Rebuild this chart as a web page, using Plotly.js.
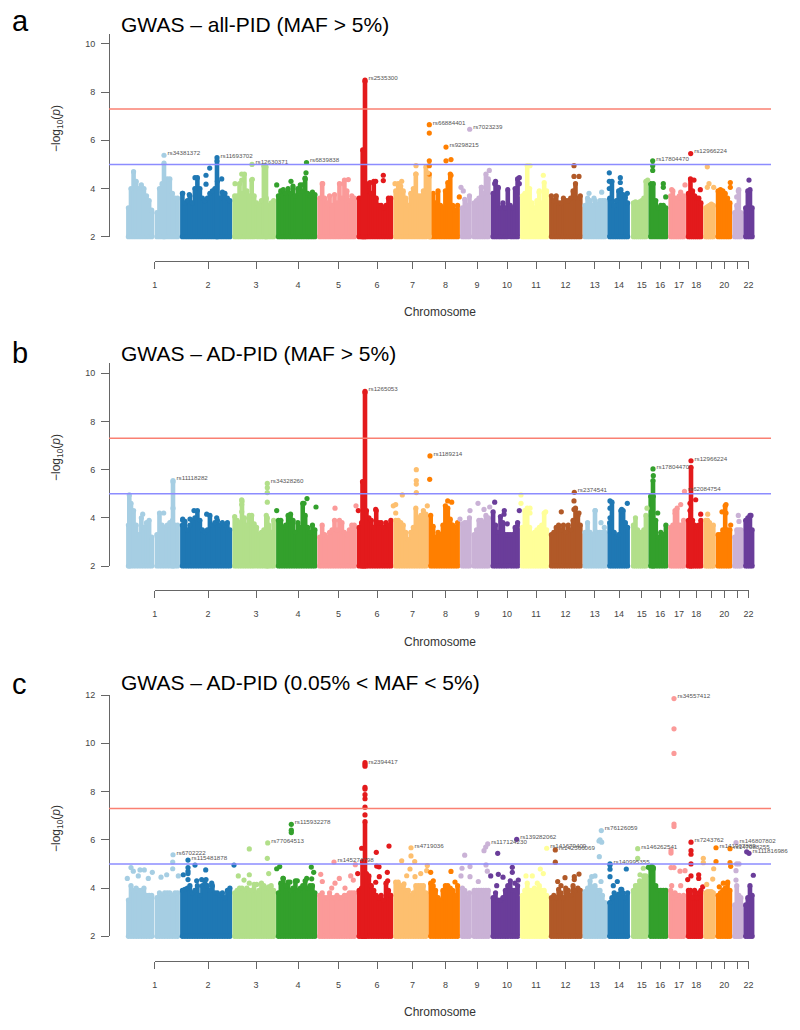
<!DOCTYPE html>
<html>
<head>
<meta charset="utf-8">
<script src="https://cdn.plot.ly/plotly-3.0.1.min.js"></script>
<style>html,body{margin:0;padding:0;background:#fff}#chart{width:800px;height:1030px}</style>
</head>
<body>
<div id="chart"></div>
<script>
// Genome position in horizontal picture units.
const chrStart = [126,180,232.3,276,317.3,356.7,393.3,428.3,460,490.7,520,549,582.7,607.3,631,648.3,668.3,686,703.3,715.7,732.3,743.3];
const chrEnd   = [180,232.3,276,317.3,356.7,393.3,428.3,460,490.7,520,549,582.7,607.3,630,648.3,668.3,686,703.3,715.7,732.3,743.3,754.5];
const chrColors = ['#A6CEE3','#1F78B4','#B2DF8A','#33A02C','#FB9A99','#E31A1C','#FDBF6F','#FF7F00','#CAB2D6','#6A3D9A','#FFFF99','#B15928','#A6CEE3','#1F78B4','#B2DF8A','#33A02C','#FB9A99','#E31A1C','#FDBF6F','#FF7F00','#CAB2D6','#6A3D9A'];
const tickPos = [154.8,208,256,298,338.5,377,412.6,445.6,477,507,536,565.5,594.8,619,641.8,660.3,679,696.3,724.3,748.6];
const tickText = ['1','2','3','4','5','6','7','8','9','10','11','12','13','14','15','16','17','18','20','22'];
const unlabelledTicks = [711,737.5];

// Upper edge of the dense band per chromosome (null = centromere gap)
const aBand = [
 [3.2,4.0,4.7,4.3,4.0,4.15,4.0,3.7,3.5,3.1,null,3.0,4.0,4.2,3.1,4.4,4.4,3.8,3.6,3.6],
 [3.8,3.4,3.5,3.7,3.4,4.0,4.45,4.0,3.6,3.5,3.6,3.8,3.9,4.0,4.3,3.6,3.85,3.8,3.6,3.5],
 [3.7,3.7,4.2,3.8,4.6,3.9,3.7,4.35,3.7,3.4,3.3,3.5,4.95,3.6,3.3,3.4,3.5],
 [3.7,3.9,3.95,3.8,4.0,3.8,4.1,3.7,4.0,4.15,3.9,4.4,3.8,3.7,3.85,3.75],
 [3.6,4.2,3.6,3.4,3.7,3.3,3.75,3.4,4.2,3.6,4.35,3.9,3.5,3.7,3.6],
 [3.6,3.6,3.5,3.9,4.2,3.8,4.3,3.6,3.3,3.3,3.2,3.3,3.6,3.6],
 [3.9,4.2,4.1,3.9,3.6,3.3,3.8,4.0,4.6,3.7,3.7,3.9,4.9],
 [3.7,3.8,3.4,3.9,3.3,3.2,3.9,4.25,4.6,3.3,3.1,3.3],
 [3.2,3.55,3.3,3.7,null,3.4,3.5,3.6,4.05,3.8,4.6,4.4],
 [3.8,4.3,4.0,3.2,3.4,3.2,3.95,3.3,3.2,4.0,4.4],
 [3.7,3.8,4.95,4.0,3.4,3.2,3.5,3.9,3.4,4.25,3.9],
 [3.7,3.5,3.7,3.4,3.4,3.6,3.5,3.5,3.6,3.9,4.2,3.6,3.7],
 [3.3,3.6,3.5,3.3,3.5,3.35,3.5,3.5,3.5],
 [3.6,4.3,3.3,3.5,3.9,3.95,3.75,3.65,3.4],
 [3.4,3.45,3.4,3.45,3.5,3.6,4.3],
 [4.2,4.2,3.5,3.2,3.3,3.3,3.2],
 [3.7,3.9,3.6,3.6,3.7,3.6,3.7],
 [3.8,4.4,3.9,3.7,3.6,3.6,3.4],
 [3.2,3.25,3.3,3.35,3.3],
 [3.9,3.95,3.9,3.8,3.6,3.4],
 [3.0,3.3,3.95,3.0],
 [3.2,3.9,3.95,3.2]
];
const bBand = [
 [3.7,4.6,4.3,3.7,3.3,4.0,3.6,3.8,3.9,3.2,null,3.3,4.2,3.7,3.6,3.7,3.8,3.9,3.7,3.7],
 [3.7,3.85,3.5,3.7,3.9,4.0,4.3,3.9,3.5,3.4,3.5,4.1,3.7,3.8,3.9,3.7,3.8,3.7,3.8,3.5],
 [4.05,3.9,3.8,4.7,4.0,3.7,4.1,4.1,3.75,3.6,3.3,3.4,3.5,4.1,3.7,3.4,3.9],
 [3.9,3.9,3.6,3.7,4.1,4.15,3.9,3.4,3.8,3.6,4.6,4.1,3.6,3.4,3.7,3.5],
 [3.2,3.7,3.3,3.2,3.4,3.5,3.9,3.5,3.9,3.8,3.4,3.3,3.5,3.7,3.7],
 [3.6,3.8,3.7,4.3,4.0,3.9,3.6,4.3,3.8,3.8,3.6,3.8,3.7,3.9],
 [3.9,3.9,3.8,3.7,3.4,3.1,3.4,3.6,4.4,4.0,4.1,4.3,4.15],
 [4.1,3.65,3.2,3.4,3.3,3.7,4.5,4.4,3.95,3.7,3.6,3.8],
 [3.75,3.8,3.8,4.0,null,3.3,3.5,3.9,3.9,3.8,4.1,4.0],
 [4.25,3.7,3.4,4.05,3.8,3.3,3.3,3.3,3.3,3.6,3.8],
 [3.6,4.3,4.4,3.6,3.3,3.4,3.5,3.6,3.7,4.2,3.5],
 [3.3,3.4,3.6,3.7,3.5,3.7,3.4,3.7,3.5,3.9,4.4,4.1,3.7],
 [3.4,3.8,3.4,3.3,4.3,3.4,3.4,3.4,3.4],
 [3.8,4.65,3.4,3.2,3.3,4.3,4.3,3.8,3.6],
 [3.7,4.0,3.5,3.4,3.4,3.5,4.1],
 [4.9,4.9,3.9,3.2,3.4,3.3,3.7],
 [3.6,3.7,4.2,4.4,3.7,3.7,3.9],
 [3.9,4.3,3.9,3.7,3.6,3.7,3.9],
 [3.9,3.9,3.8,3.6,3.7],
 [3.3,3.3,3.5,4.5,3.5,3.5],
 [3.2,3.5,3.5,3.5],
 [3.9,4.0,4.1,3.5]
];
const cBand = [
 [3.5,4.1,3.9,4.0,3.9,3.9,4.0,3.7,3.7,3.7,null,3.6,3.8,3.7,3.8,3.8,3.8,3.7,3.8,3.8],
 [3.9,3.95,4.0,4.1,3.8,3.9,4.1,3.7,4.1,4.2,4.1,3.9,4.1,3.8,3.8,3.7,3.8,3.6,3.9,4.0],
 [3.8,3.9,4.0,4.0,3.9,4.0,3.9,3.9,4.15,3.8,3.9,4.2,4.1,4.0,4.05,4.1,3.9],
 [3.8,4.2,4.4,4.1,4.25,3.9,4.0,4.3,3.9,4.0,4.1,4.3,4.0,4.1,4.1,3.8],
 [3.7,3.8,3.6,3.6,3.8,3.6,3.6,3.7,3.6,3.6,3.7,3.7,3.8,3.8,3.8],
 [3.9,4.0,4.3,4.6,4.5,4.1,3.9,3.7,3.6,3.7,3.5,4.2,3.9,3.7],
 [4.25,4.25,4.1,4.1,3.9,3.9,3.7,3.8,4.1,4.1,4.1,4.1,3.8],
 [4.2,4.1,3.9,3.6,3.5,3.9,4.1,4.1,4.0,3.9,3.7,4.1],
 [4.0,3.9,3.6,3.8,null,3.9,3.9,3.9,3.9,3.9,3.9,3.9],
 [3.6,3.8,3.5,3.5,3.6,3.9,4.1,4.3,3.9,3.9,4.1],
 [3.7,3.9,4.2,3.9,3.9,4.0,3.9,4.1,3.9,3.9,3.7],
 [3.6,3.7,3.6,3.95,3.8,3.6,3.9,3.9,3.7,4.1,3.9,4.0,3.9],
 [3.85,4.0,4.3,4.05,4.1,3.9,3.9,3.7,3.4],
 [3.4,3.6,3.8,3.65,3.75,3.95,3.8,3.6,3.8],
 [3.9,4.1,4.1,4.3,4.1,4.5,4.5],
 [4.8,4.8,4.1,3.9,3.9,3.9,3.9],
 [3.9,3.6,3.8,3.7,3.7,3.6,3.7],
 [3.9,3.9,3.6,3.9,3.6,3.8,3.9],
 [3.8,3.85,3.85,3.85,3.8],
 [3.7,3.8,3.9,4.0,4.2,3.9],
 [3.3,4.1,3.7,3.6],
 [3.3,3.6,4.1,3.7]
];

// Narrow towers of stacked points: position, top, chromosome index
const aTowerX = [164,217,365,362.7,266,429.3];
const aTowerY = [5.05,5.15,8.45,5.6,4.9,4.5];
const aTowerChr = [0,1,5,5,2,6];
const bTowerX = [129.3,173,365,362.5,653,691,267.3];
const bTowerY = [4.95,5.5,9.2,5.5,5.55,6.1,4.0];
const bTowerChr = [0,0,5,5,15,17,2];
const cTowerX = [365,362.5];
const cTowerY = [6.75,5.1];
const cTowerChr = [5,5];

// Loose points
const aPointX = [182.7,189.3,195,206,206,209.7,221.7,241.7,241.7,252.3,276.7,235,291,306,305,302.7,322.7,343.3,348.3,383.3,383.3,370,375.7,395,401.7,416,416,429.3,429.3,429.3,427.7,446,451,451,461,459.3,463.3,489.3,481.7,494.7,498.3,519.3,519.3,530,543.3,539,574,574,579,589,601.7,594,609.3,609.3,609.3,620.3,620.3,627.3,647.7,652.7,652.7,663.3,663.3,665.7,685,680.7,671.7,700.3,694,707.3,707.3,709,713.7,730.3,730.3,749,738.3,736.7,429.3];
const aPointY = [3.8,3.75,4.45,4.55,4.18,4.85,4.4,4.6,4.35,4.38,4.15,4.2,4.3,4.65,4.43,4.15,4.2,4.2,4.37,4.55,4.33,4.25,4.3,4.2,4.3,4.95,4.6,5.15,4.95,4.6,4.65,5.15,5.2,4.55,4.05,3.65,3.9,4.75,4.05,4.2,4.05,4.45,4.2,4.95,4.55,3.85,4.95,4.5,4.5,3.8,3.85,3.6,4.65,4.3,4.0,4.45,4.25,3.8,4.35,4.95,4.75,4.2,4.05,3.65,4.15,3.85,3.95,3.95,4.35,4.9,4.05,4.2,4.05,4.25,4.05,4.35,3.9,3.65,6.3];
const bPointX = [142.7,163.7,173,182.7,194,206.7,182.7,190,216.7,241.7,241.7,241.7,267.3,267.3,267.3,276.7,307,304,316,335,356,358.3,375.7,393.3,395.7,395.7,402.3,416.3,416.3,416.3,416.3,429.7,427.3,447.7,451.7,460,470,478,484,489.7,494.7,504.3,504,507.3,521,521,519.3,530,530,545.7,561.3,574,574,579,595.3,601,604.3,610,610,610,627.3,621.7,647,653.3,657.7,680.7,675,690,690,695.7,700.7,707.7,722,726,726,730.7,738.3,739,751];
const bPointY = [4.15,4.2,4.4,3.95,4.3,4.15,3.9,3.95,4.0,4.75,4.55,4.25,5.25,5.05,4.65,4.3,4.8,4.6,4.45,4.4,4.5,4.3,4.35,4.5,4.55,4.2,4.95,6.0,5.55,5.4,5.05,5.6,4.5,4.7,4.65,3.95,4.3,4.6,4.35,4.45,4.65,4.3,4.15,3.75,4.95,4.6,4.3,4.4,4.2,4.25,4.25,4.7,4.35,4.2,4.3,3.8,3.6,4.7,4.4,4.0,4.6,4.35,4.4,5.75,4.2,4.55,4.3,4.6,4.3,4.75,4.15,4.15,4.25,4.55,4.2,3.7,4.1,3.85,4.1];
const cPointX = [131,127.3,133.3,140,144.3,152.3,138.3,148.3,161,166.7,172.7,172.7,178.3,183.3,188,188,188,188,195,205.7,196.7,201.7,206,211.7,238.3,249.3,249.3,244,249.3,267.3,268.7,276.7,256.7,279.7,291.3,291.3,311.3,313.7,297.3,306.7,311.7,283,290,320.7,355.3,357.7,322.3,339.3,335,350.7,353.3,331.7,345,365,365,365,365,365,365,365,365,361.7,389,376.3,376.7,379,379.3,375.7,387.3,387.7,411,414.7,401.7,427.3,410,406.7,420.7,426.7,415,404,430.7,451,461,433.3,455,464.7,462,470,470,484,485.7,486,487.3,490.7,478.3,497.7,512.3,512.3,498.3,503,518.3,515,496.7,540.3,543.3,532.3,526,537.3,555.3,557.7,565,574.3,579,561,565.7,574.3,600,599,601.7,599.3,591.7,595,601,610,610,610,626.3,617.3,613.3,621.7,637.7,643.3,648.3,640,645,651.7,653.3,671,671,671,674,674,674,674,674,680,685,687.7,680.7,671.7,691,691,691,691,703.3,703.3,698.7,698.7,702.7,716,713.7,712.7,706.7,730,730.7,727.7,723.3,719.3,736.7,739,736,736,753.3,746.7];
const cPointY = [4.85,4.4,4.7,4.75,4.75,4.65,4.5,4.4,4.45,4.55,4.8,5.08,4.5,4.55,4.85,4.7,4.6,4.35,4.95,4.75,4.3,4.35,4.35,4.2,4.5,5.62,4.55,4.33,4.2,5.23,4.6,4.8,4.15,4.89,6.4,6.3,4.87,4.65,4.3,4.4,4.38,4.4,4.25,4.57,4.97,4.6,4.27,4.4,4.2,4.5,4.33,4.0,4.0,9.2,9.05,8.17,8.1,7.87,7.7,7.35,7.03,5.65,5.74,5.48,4.91,4.88,4.47,4.24,4.65,4.3,5.33,5.1,5.13,4.93,4.79,4.51,4.6,4.72,4.47,4.17,4.65,4.69,4.5,4.3,4.25,5.36,4.82,4.89,4.47,5.55,5.7,4.96,4.7,4.5,4.27,5.44,4.86,4.65,4.57,4.45,4.33,4.2,4.1,4.79,4.6,4.5,4.5,4.2,5.07,4.27,4.43,4.47,4.58,4.1,4.0,4.35,6.0,5.95,5.9,5.3,4.47,4.5,4.27,4.78,4.47,4.95,4.79,4.27,4.1,3.95,5.23,4.82,4.86,4.55,4.35,4.9,4.85,5.55,5.45,4.85,4.85,10.6,9.58,6.65,6.55,4.7,4.72,4.35,4.1,4.1,5.55,5.4,5.0,4.5,5.23,5.05,4.55,4.4,4.05,5.1,4.8,4.37,4.15,5.05,4.9,4.25,4.2,4.05,5.0,5.0,4.72,4.33,4.53,5.5];
// Point just past the chr2/chr3 boundary that keeps the chr2 colour
const cStrayX = [234]; const cStrayY = [4.95]; const cStrayChr = [1];

// Named SNPs
const aSnpX = [164,217,252,306.5,365,429.3,446,469.7,652.7,690.7];
const aSnpY = [5.38,5.28,5.0,5.08,8.5,6.65,5.72,6.46,5.15,5.45];
const aSnpName = ['rs34381372','rs11693702','rs12630371','rs6839838','rs2535300','rs66884401','rs9298215','rs7023239','rs17804470','rs12966224'];
const bSnpX = [173,267.3,365,430,574.3,653,691,684.5];
const bSnpY = [5.55,5.43,9.25,6.57,5.06,6.03,6.37,5.1];
const bSnpName = ['rs11118282','rs34328260','rs1265053','rs1189214','rs2374541','rs17804470','rs12966224','rs62084754'];
const cSnpX = [173,188,267.7,291.3,334,365,411,487.7,516.7,546.7,555.3,601.3,610,637.7,674,691,716,730,736,749];
const cSnpY = [5.38,5.16,5.87,6.64,5.08,9.13,5.67,5.83,6.02,5.65,5.58,6.38,5.0,5.63,11.85,5.9,5.67,5.63,5.88,5.44];
const cSnpName = ['rs6702222','rs115481878','rs77064513','rs115932278','rs145274798','rs2394417','rs4719036','rs117124230','rs139282062','rs141679409','rs142366069','rs76126059','rs140995355','rs146262541','rs34557412','rs7243762','rs141907889','rs147088255','rs146807802','rs111816986'];

const titles = ['GWAS – all-PID (MAF > 5%)','GWAS – AD-PID (MAF > 5%)','GWAS – AD-PID (0.05% < MAF < 5%)'];
const letters = ['a','b','c'];
const redLine = 7.3, blueLine = 5;

const W = 800, H = 1030;
const px = v => 1 - v / H;
const panels = [
 {band:aBand,tX:aTowerX,tY:aTowerY,tC:aTowerChr,pX:aPointX,pY:aPointY,sX:aSnpX,sY:aSnpY,sN:aSnpName,base:236.7,top:34,range:[2,10.414],axisY:261,ticks:[2,4,6,8,10],titleY:25,letterY:21,xTitleY:312,yTitleY:128},
 {band:bBand,tX:bTowerX,tY:bTowerY,tC:bTowerChr,pX:bPointX,pY:bPointY,sX:bSnpX,sY:bSnpY,sN:bSnpName,base:566,top:362.7,range:[2,10.44],axisY:590.3,ticks:[2,4,6,8,10],titleY:353,letterY:353,xTitleY:641.5,yTitleY:457},
 {band:cBand,tX:cTowerX,tY:cTowerY,tC:cTowerChr,pX:cPointX,pY:cPointY,sX:cSnpX,sY:cSnpY,sN:cSnpName,base:936.3,top:695,range:[2,12],axisY:960.7,ticks:[2,4,6,8,10,12],titleY:682.5,letterY:684,xTitleY:1012,yTitleY:828}
];
const chrOf = x => { for (let i = 0; i < 22; i++) if (x < chrEnd[i]) return i; return 21; };

const traces = [], shapes = [], annotations = [], layout = {};
const MS = 5.2, LW = 4.6, labelGap = 3.5, labelLift = 0.07;
panels.forEach((p, k) => {
  const n = k + 1;
  const dataX = 'x' + (n === 1 ? '' : n), ya = 'y' + (n === 1 ? '' : n);
  const rulerX = 'x' + (n + 3);
  // chromosome ruler axis comes first so its subplot sits under the data
  traces.push({type:'scatter',mode:'markers',x:tickPos,y:tickPos.map(() => 2),xaxis:rulerX,yaxis:ya,hoverinfo:'skip',showlegend:false,marker:{size:1,opacity:0}});
  p.band.forEach((vals, c) => {
    const x0 = chrStart[c] + 2.4, x1 = chrEnd[c] - 2.4;
    const xs = [], ys = [];
    vals.forEach((v, i) => {
      if (v === null) return;
      const xp = x0 + (x1 - x0) * i / (vals.length - 1);
      xs.push(xp, xp, null); ys.push(2, v, null);
    });
    traces.push({type:'scatter',mode:'lines+markers',x:xs,y:ys,xaxis:dataX,yaxis:ya,cliponaxis:false,hoverinfo:'skip',showlegend:false,
      line:{color:chrColors[c],width:LW,simplify:false},marker:{color:chrColors[c],size:MS}});
  });
  p.tX.forEach((x, i) => {
    const col = chrColors[p.tC[i]];
    traces.push({type:'scatter',mode:'lines+markers',x:[x,x],y:[2,p.tY[i]],xaxis:dataX,yaxis:ya,cliponaxis:false,hoverinfo:'skip',showlegend:false,
      line:{color:col,width:LW,simplify:false},marker:{color:col,size:MS}});
  });
  const ptX = p.pX.slice(), ptY = p.pY.slice(), ptC = ptX.map(x => chrColors[chrOf(x)]);
  if (k === 2) cStrayX.forEach((x, i) => { ptX.push(x); ptY.push(cStrayY[i]); ptC.push(chrColors[cStrayChr[i]]); });
  traces.push({type:'scatter',mode:'markers',x:ptX,y:ptY,xaxis:dataX,yaxis:ya,cliponaxis:false,hoverinfo:'skip',showlegend:false,
    marker:{color:ptC,size:MS}});
  traces.push({type:'scatter',mode:'markers',x:p.sX,y:p.sY,xaxis:dataX,yaxis:ya,cliponaxis:false,showlegend:false,
    marker:{color:p.sX.map(chrOf).map(i => chrColors[i]),size:MS}});
  traces.push({type:'scatter',mode:'text',x:p.sX.map(v => v + labelGap),y:p.sY.map(v => v + labelLift),text:p.sN,textposition:'middle right',xaxis:dataX,yaxis:ya,cliponaxis:false,showlegend:false,
    textfont:{family:'Liberation Sans',size:6.2,color:'#555'}});

  layout['xaxis' + (n === 1 ? '' : n)] = {domain:[0,1],range:[0,W],visible:false,anchor:ya};
  layout['xaxis' + (n + 3)] = {domain:[154.8/W,748.6/W],range:[154.8,748.6],anchor:'free',position:px(p.axisY),
    tickmode:'array',tickvals:tickPos,ticktext:tickText,ticks:'outside',ticklen:7,tickcolor:'#666',showline:true,linecolor:'#666',linewidth:1,
    minor:{tickmode:'array',tickvals:unlabelledTicks,ticks:'outside',ticklen:7,tickcolor:'#666',showgrid:false},
    showgrid:false,zeroline:false,ticklabelstandoff:8,tickangle:0,tickfont:{family:'Liberation Sans',size:9,color:'#444'}};
  layout['yaxis' + (n === 1 ? '' : n)] = {domain:[px(p.base),px(p.top)],range:p.range,anchor:'free',position:109/W,
    tickmode:'array',tickvals:p.ticks,ticks:'outside',ticklen:8,tickcolor:'#666',showline:true,linecolor:'#666',linewidth:1,
    showgrid:false,zeroline:false,ticklabelstandoff:4,tickangle:0,tickfont:{family:'Liberation Sans',size:9,color:'#444'}};

  shapes.push({type:'line',xref:'paper',x0:109/W,x1:771/W,yref:ya,y0:redLine,y1:redLine,line:{color:'#FA8072',width:1.5}});
  shapes.push({type:'line',xref:'paper',x0:109/W,x1:771/W,yref:ya,y0:blueLine,y1:blueLine,line:{color:'#8C8CFF',width:1.5}});

  annotations.push({xref:'paper',yref:'paper',x:119/W,y:px(p.titleY),xanchor:'left',yanchor:'middle',showarrow:false,text:titles[k],font:{family:'Liberation Sans',size:21,color:'#000'}});
  annotations.push({xref:'paper',yref:'paper',x:10/W,y:px(p.letterY),xanchor:'left',yanchor:'middle',showarrow:false,text:letters[k],font:{family:'Liberation Sans',size:29,color:'#000'}});
  annotations.push({xref:'paper',yref:'paper',x:440/W,y:px(p.xTitleY),xanchor:'center',yanchor:'middle',showarrow:false,text:'Chromosome',font:{family:'Liberation Sans',size:12,color:'#333'}});
  annotations.push({xref:'paper',yref:'paper',x:57/W,y:px(p.yTitleY),xanchor:'center',yanchor:'middle',textangle:-90,showarrow:false,text:'−log<sub>10</sub>(<i>p</i>)',font:{family:'Liberation Sans',size:12,color:'#333'}});
});

Object.assign(layout, {width:W,height:H,margin:{l:0,r:0,t:0,b:0},paper_bgcolor:'#fff',plot_bgcolor:'rgba(0,0,0,0)',showlegend:false,hovermode:false,shapes,annotations});
Plotly.newPlot('chart', traces, layout, {displayModeBar:false});
</script>
</body>
</html>
